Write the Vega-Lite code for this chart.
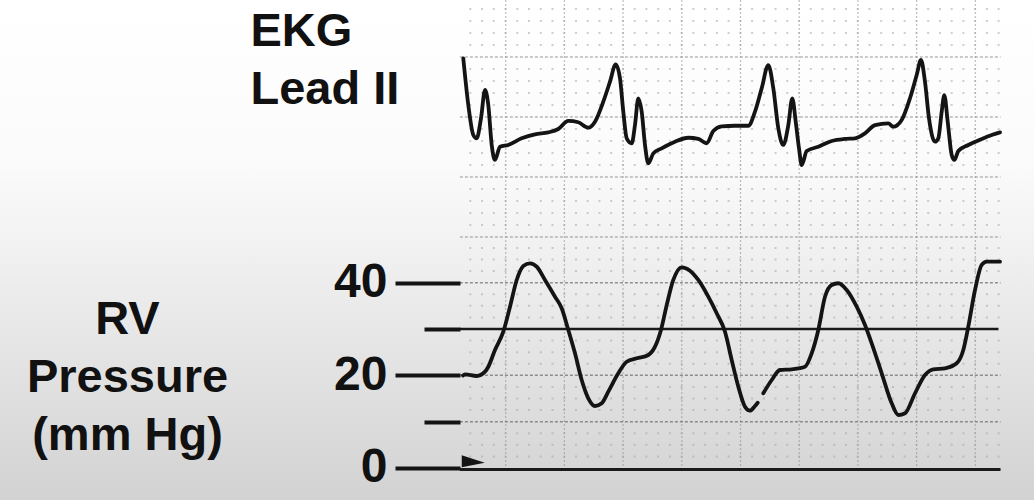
{
  "$schema": "https://vega.github.io/schema/vega-lite/v6.json",
  "description": "EKG lead II above a right ventricular pressure tracing",
  "width": 1034,
  "height": 500,
  "autosize": "none",
  "padding": 0,
  "background": "#ffffff",
  "config": {"view": {"stroke": null}, "font": "Liberation Sans"},
  "datasets": {
    "ekg": [
      {"t": 0.0555, "v": 0.489}, {"t": 0.0726, "v": 0.1}, {"t": 0.0896, "v": -0.15}, {"t": 0.1012, "v": -0.178},
      {"t": 0.1158, "v": -0.011}, {"t": 0.1295, "v": 0.225}, {"t": 0.1407, "v": 0.1}, {"t": 0.1523, "v": -0.233},
      {"t": 0.1635, "v": -0.358}, {"t": 0.1806, "v": -0.248}, {"t": 0.2089, "v": -0.233}, {"t": 0.2545, "v": -0.178},
      {"t": 0.2998, "v": -0.144}, {"t": 0.3451, "v": -0.128}, {"t": 0.3792, "v": -0.1}, {"t": 0.4133, "v": -0.033},
      {"t": 0.4474, "v": -0.044}, {"t": 0.4814, "v": -0.089}, {"t": 0.5043, "v": -0.039}, {"t": 0.5325, "v": 0.128},
      {"t": 0.5554, "v": 0.294}, {"t": 0.5748, "v": 0.439}, {"t": 0.5894, "v": 0.323}, {"t": 0.6007, "v": 0.044},
      {"t": 0.6123, "v": -0.178}, {"t": 0.6293, "v": -0.219}, {"t": 0.6405, "v": -0.067}, {"t": 0.6518, "v": 0.156},
      {"t": 0.6634, "v": 0.044}, {"t": 0.6746, "v": -0.233}, {"t": 0.6859, "v": -0.386}, {"t": 0.7029, "v": -0.303},
      {"t": 0.7315, "v": -0.261}, {"t": 0.7768, "v": -0.206}, {"t": 0.8221, "v": -0.173}, {"t": 0.8562, "v": -0.183},
      {"t": 0.8848, "v": -0.219}, {"t": 0.9073, "v": -0.117}, {"t": 0.9359, "v": -0.078}, {"t": 0.9813, "v": -0.073},
      {"t": 1.0266, "v": -0.073}, {"t": 1.0494, "v": 0.044}, {"t": 1.0722, "v": 0.239}, {"t": 1.0947, "v": 0.433},
      {"t": 1.1118, "v": 0.239}, {"t": 1.1288, "v": -0.094}, {"t": 1.1458, "v": -0.233}, {"t": 1.1629, "v": -0.067},
      {"t": 1.1765, "v": 0.156}, {"t": 1.1881, "v": -0.039}, {"t": 1.1993, "v": -0.261}, {"t": 1.2085, "v": -0.4},
      {"t": 1.2256, "v": -0.283}, {"t": 1.2651, "v": -0.248}, {"t": 1.3107, "v": -0.2}, {"t": 1.356, "v": -0.183},
      {"t": 1.3901, "v": -0.178}, {"t": 1.4242, "v": -0.136}, {"t": 1.4583, "v": -0.067}, {"t": 1.5036, "v": -0.053},
      {"t": 1.5206, "v": -0.081}, {"t": 1.5492, "v": -0.025}, {"t": 1.5775, "v": 0.156}, {"t": 1.6003, "v": 0.35},
      {"t": 1.615, "v": 0.475}, {"t": 1.6286, "v": 0.294}, {"t": 1.6422, "v": -0.011}, {"t": 1.6627, "v": -0.206},
      {"t": 1.6739, "v": -0.178}, {"t": 1.6855, "v": 0.044}, {"t": 1.6944, "v": 0.183}, {"t": 1.706, "v": -0.039},
      {"t": 1.7196, "v": -0.317}, {"t": 1.7285, "v": -0.358}, {"t": 1.7421, "v": -0.283}, {"t": 1.7761, "v": -0.233},
      {"t": 1.8218, "v": -0.183}, {"t": 1.8559, "v": -0.15}, {"t": 1.8842, "v": -0.128}
    ],
    "rv": [
      {"seg": 1, "t": 0.0545, "p": 19.97}, {"seg": 1, "t": 0.0613, "p": 20.22}, {"seg": 1, "t": 0.1012, "p": 19.86},
      {"seg": 1, "t": 0.1295, "p": 20.79}, {"seg": 1, "t": 0.1407, "p": 21.86}, {"seg": 1, "t": 0.1635, "p": 25.47},
      {"seg": 1, "t": 0.1918, "p": 29.42}, {"seg": 1, "t": 0.2147, "p": 34.82}, {"seg": 1, "t": 0.2375, "p": 40.58},
      {"seg": 1, "t": 0.26, "p": 43.6}, {"seg": 1, "t": 0.2828, "p": 44.18}, {"seg": 1, "t": 0.3056, "p": 43.45},
      {"seg": 1, "t": 0.3339, "p": 40.58}, {"seg": 1, "t": 0.368, "p": 36.97}, {"seg": 1, "t": 0.3908, "p": 34.47},
      {"seg": 1, "t": 0.4133, "p": 29.79}, {"seg": 1, "t": 0.4361, "p": 24.76}, {"seg": 1, "t": 0.4589, "p": 18.99},
      {"seg": 1, "t": 0.4814, "p": 15.04}, {"seg": 1, "t": 0.5043, "p": 13.38}, {"seg": 1, "t": 0.5271, "p": 13.96},
      {"seg": 1, "t": 0.5496, "p": 16.47}, {"seg": 1, "t": 0.5836, "p": 20.44}, {"seg": 1, "t": 0.6123, "p": 22.94},
      {"seg": 1, "t": 0.6463, "p": 23.68}, {"seg": 1, "t": 0.6859, "p": 24.39}, {"seg": 1, "t": 0.7087, "p": 26.18},
      {"seg": 1, "t": 0.7291, "p": 29.79}, {"seg": 1, "t": 0.7486, "p": 35.18}, {"seg": 1, "t": 0.771, "p": 40.58},
      {"seg": 1, "t": 0.7997, "p": 43.32}, {"seg": 1, "t": 0.8279, "p": 42.59}, {"seg": 1, "t": 0.8562, "p": 40.58},
      {"seg": 1, "t": 0.8903, "p": 36.97}, {"seg": 1, "t": 0.9189, "p": 33.39}, {"seg": 1, "t": 0.9472, "p": 29.42},
      {"seg": 1, "t": 0.97, "p": 23.31}, {"seg": 1, "t": 0.9925, "p": 17.55}, {"seg": 1, "t": 1.0153, "p": 13.23},
      {"seg": 1, "t": 1.0324, "p": 12.37}, {"seg": 1, "t": 1.0494, "p": 13.38}, {"seg": 1, "t": 1.0586, "p": 14.09},
      {"seg": 2, "t": 1.0777, "p": 16.12}, {"seg": 2, "t": 1.1063, "p": 18.99}, {"seg": 2, "t": 1.1346, "p": 21.15},
      {"seg": 2, "t": 1.1744, "p": 21.3}, {"seg": 2, "t": 1.2198, "p": 21.86}, {"seg": 2, "t": 1.2426, "p": 24.76},
      {"seg": 2, "t": 1.2651, "p": 29.79}, {"seg": 2, "t": 1.2879, "p": 36.97}, {"seg": 2, "t": 1.3107, "p": 39.5},
      {"seg": 2, "t": 1.3332, "p": 39.87}, {"seg": 2, "t": 1.3618, "p": 38.42}, {"seg": 2, "t": 1.3959, "p": 34.82},
      {"seg": 2, "t": 1.4242, "p": 30.87}, {"seg": 2, "t": 1.447, "p": 26.92}, {"seg": 2, "t": 1.4811, "p": 20.44},
      {"seg": 2, "t": 1.5152, "p": 13.96}, {"seg": 2, "t": 1.5377, "p": 11.44}, {"seg": 2, "t": 1.5605, "p": 11.81},
      {"seg": 2, "t": 1.5945, "p": 16.12}, {"seg": 2, "t": 1.6286, "p": 20.07}, {"seg": 2, "t": 1.6569, "p": 21.3},
      {"seg": 2, "t": 1.6968, "p": 21.52}, {"seg": 2, "t": 1.7366, "p": 22.6}, {"seg": 2, "t": 1.7591, "p": 25.47},
      {"seg": 2, "t": 1.7761, "p": 30.5}, {"seg": 2, "t": 1.799, "p": 38.42}, {"seg": 2, "t": 1.8218, "p": 43.82},
      {"seg": 2, "t": 1.8388, "p": 44.53}, {"seg": 2, "t": 1.8842, "p": 44.53}
    ],
    "vgrid": [{"t": 0.2}, {"t": 0.4}, {"t": 0.6}, {"t": 0.8}, {"t": 1.0}, {"t": 1.2}, {"t": 1.4}, {"t": 1.6}, {"t": 1.8}],
    "ekgMajor": [{"v": 0.5}, {"v": 0}, {"v": -0.5}, {"v": -1.0}],
    "ekgMinor": [
      {"v": 0.9}, {"v": 0.8}, {"v": 0.7}, {"v": 0.6}, {"v": 0.4}, {"v": 0.3}, {"v": 0.2}, {"v": 0.1},
      {"v": -0.1}, {"v": -0.2}, {"v": -0.3}, {"v": -0.4}, {"v": -0.6}, {"v": -0.7}, {"v": -0.8}, {"v": -0.9}
    ],
    "pMajor": [{"p": 40}, {"p": 20}, {"p": 10}],
    "pMinor": [
      {"p": 2.5}, {"p": 5}, {"p": 7.5}, {"p": 12.5}, {"p": 15}, {"p": 17.5}, {"p": 22.5}, {"p": 25},
      {"p": 27.5}, {"p": 32.5}, {"p": 35}, {"p": 37.5}, {"p": 42.5}, {"p": 45}, {"p": 47.5}
    ],
    "marker": [{"t": 0.0895, "p": 1.4}]
  },
  "layer": [
    {
      "data": {"values": [{"paper": 1}]},
      "mark": {
        "type": "rect",
        "color": {
          "gradient": "linear", "x1": 0, "y1": 0, "x2": 0, "y2": 1,
          "stops": [
            {"offset": 0, "color": "#ffffff"},
            {"offset": 0.32, "color": "#fbfbfb"},
            {"offset": 0.6, "color": "#ebebeb"},
            {"offset": 1, "color": "#d2d2d2"}
          ]
        }
      },
      "encoding": {}
    },
    {
      "layer": [
        {
          "data": {"name": "vgrid"},
          "mark": {"type": "rule", "color": "#8a8a8a", "strokeWidth": 1.2, "strokeDash": [2, 2], "opacity": 0.55},
          "encoding": {
            "x": {"field": "t", "type": "quantitative", "scale": {"domain": [-1.523, 2.0], "nice": false, "zero": false}, "axis": null},
            "y": {"datum": 0.975, "type": "quantitative", "scale": {"domain": [-3.1917, 0.975], "nice": false, "zero": false}},
            "y2": {"datum": -2.94}
          }
        },
        {
          "data": {"name": "ekgMinor"},
          "mark": {"type": "rule", "color": "#a0a0a0", "strokeWidth": 2, "strokeDash": [2, 9.74], "strokeDashOffset": 2.34, "opacity": 0.5},
          "encoding": {
            "x": {"datum": 0.044, "type": "quantitative", "scale": {"domain": [-1.523, 2.0], "nice": false, "zero": false}, "axis": null},
            "x2": {"datum": 1.886},
            "y": {"field": "v", "type": "quantitative", "scale": {"domain": [-3.1917, 0.975], "nice": false, "zero": false}}
          }
        },
        {
          "data": {"name": "ekgMajor"},
          "mark": {"type": "rule", "color": "#8a8a8a", "strokeWidth": 1.3, "strokeDash": [3, 2], "opacity": 0.6},
          "encoding": {
            "x": {"datum": 0.044, "type": "quantitative", "scale": {"domain": [-1.523, 2.0], "nice": false, "zero": false}, "axis": null},
            "x2": {"datum": 1.886},
            "y": {"field": "v", "type": "quantitative", "scale": {"domain": [-3.1917, 0.975], "nice": false, "zero": false}}
          }
        },
        {
          "data": {"name": "ekg"},
          "mark": {"type": "line", "color": "#141414", "strokeWidth": 3.8, "interpolate": "monotone", "strokeJoin": "round", "strokeCap": "round"},
          "encoding": {
            "x": {"field": "t", "type": "quantitative", "scale": {"domain": [-1.523, 2.0], "nice": false, "zero": false}, "axis": null},
            "y": {
              "field": "v", "type": "quantitative",
              "scale": {"domain": [-3.1917, 0.975], "nice": false, "zero": false},
              "axis": {
                "orient": "left", "offset": -460, "zindex": 2, "domain": false, "ticks": false, "labels": false, "grid": false,
                "title": ["EKG", "Lead II"], "titleAngle": 0, "titleAlign": "left", "titleBaseline": "alphabetic",
                "titleX": -210, "titleY": 45, "titleFont": "Liberation Sans", "titleFontSize": 47,
                "titleFontWeight": "bold", "titleColor": "#111111", "titleLineHeight": 58
              }
            }
          }
        }
      ]
    },
    {
      "layer": [
        {
          "data": {"name": "pMinor"},
          "mark": {"type": "rule", "color": "#a0a0a0", "strokeWidth": 2, "strokeDash": [2, 9.74], "strokeDashOffset": 2.34, "opacity": 0.5},
          "encoding": {
            "x": {"datum": 0.044, "type": "quantitative", "scale": {"domain": [-1.523, 2.0], "nice": false, "zero": false}, "axis": null},
            "x2": {"datum": 1.886},
            "y": {"field": "p", "type": "quantitative", "scale": {"domain": [-6.907, 101.01], "nice": false, "zero": false}}
          }
        },
        {
          "data": {"name": "pMajor"},
          "mark": {"type": "rule", "color": "#6a6a6a", "strokeWidth": 1.5, "strokeDash": [3, 2], "opacity": 0.7},
          "encoding": {
            "x": {"datum": 0.044, "type": "quantitative", "scale": {"domain": [-1.523, 2.0], "nice": false, "zero": false}, "axis": null},
            "x2": {"datum": 1.886},
            "y": {"field": "p", "type": "quantitative", "scale": {"domain": [-6.907, 101.01], "nice": false, "zero": false}}
          }
        },
        {
          "data": {"values": [{"p": 30}]},
          "mark": {"type": "rule", "color": "#1a1a1a", "strokeWidth": 2.3},
          "encoding": {
            "x": {"datum": 0.044, "type": "quantitative", "scale": {"domain": [-1.523, 2.0], "nice": false, "zero": false}, "axis": null},
            "x2": {"datum": 1.879},
            "y": {"field": "p", "type": "quantitative", "scale": {"domain": [-6.907, 101.01], "nice": false, "zero": false}}
          }
        },
        {
          "data": {"values": [{"p": -0.3}]},
          "mark": {"type": "rule", "color": "#1a1a1a", "strokeWidth": 3},
          "encoding": {
            "x": {"datum": 0.044, "type": "quantitative", "scale": {"domain": [-1.523, 2.0], "nice": false, "zero": false}, "axis": null},
            "x2": {"datum": 1.886},
            "y": {"field": "p", "type": "quantitative", "scale": {"domain": [-6.907, 101.01], "nice": false, "zero": false}}
          }
        },
        {
          "data": {"name": "marker"},
          "mark": {"type": "point", "shape": "M-1,-0.55L1,0.1L-1,0.5Z", "filled": true, "color": "#141414", "size": 530, "opacity": 1},
          "encoding": {
            "x": {"field": "t", "type": "quantitative", "scale": {"domain": [-1.523, 2.0], "nice": false, "zero": false}, "axis": null},
            "y": {"field": "p", "type": "quantitative", "scale": {"domain": [-6.907, 101.01], "nice": false, "zero": false}}
          }
        },
        {
          "data": {"name": "rv"},
          "mark": {"type": "line", "color": "#141414", "strokeWidth": 3.8, "interpolate": "monotone", "strokeJoin": "round", "strokeCap": "round"},
          "encoding": {
            "x": {"field": "t", "type": "quantitative", "scale": {"domain": [-1.523, 2.0], "nice": false, "zero": false}, "axis": null},
            "y": {
              "field": "p", "type": "quantitative",
              "scale": {"domain": [-6.907, 101.01], "nice": false, "zero": false},
              "axis": {
                "orient": "left", "offset": -460, "zindex": 2, "values": [0, 10, 20, 30, 40], "domain": false, "grid": false,
                "labelExpr": "datum.value % 20 === 0 ? datum.label : ''",
                "tickSize": {"condition": {"test": "datum.value % 20 === 0", "value": 65}, "value": 36},
                "tickWidth": 4, "tickColor": "#141414",
                "labelFont": "Liberation Sans", "labelFontSize": 48, "labelFontWeight": "bold", "labelColor": "#111111",
                "labelPadding": 8,
                "title": ["RV", "Pressure", "(mm Hg)"], "titleAngle": 0, "titleAlign": "center", "titleBaseline": "alphabetic",
                "titleX": -333, "titleY": 333, "titleFont": "Liberation Sans", "titleFontSize": 47,
                "titleFontWeight": "bold", "titleColor": "#111111", "titleLineHeight": 58
              }
            },
            "detail": {"field": "seg", "type": "nominal"}
          }
        }
      ]
    }
  ],
  "resolve": {"scale": {"y": "independent"}}
}
